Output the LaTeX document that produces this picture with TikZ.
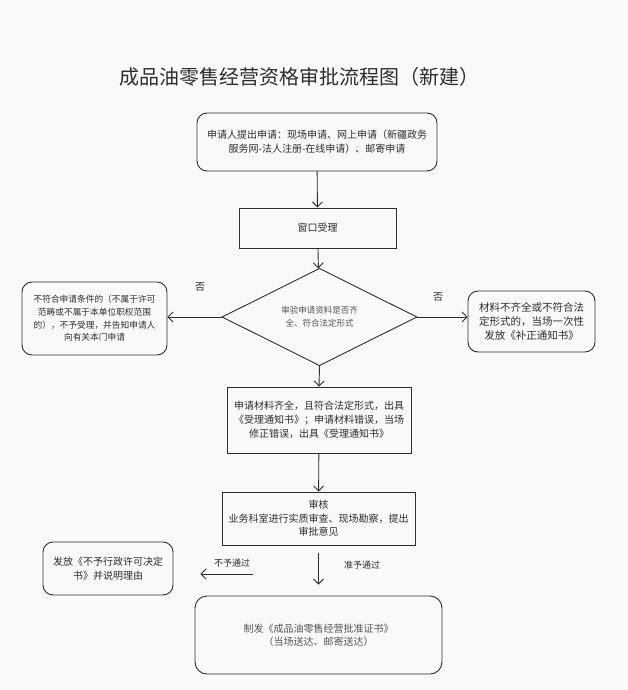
\documentclass[tikz,border=0pt]{standalone}
\usepackage{fontspec}
\setmainfont{Noto Sans CJK SC}
\usetikzlibrary{shapes.geometric,arrows.meta}
\definecolor{paper}{RGB}{249,249,250}
\definecolor{ink}{RGB}{45,45,45}
\definecolor{soft}{RGB}{85,85,85}
\begin{document}
\begin{tikzpicture}[x=1pt,y=-1pt,line width=0.9pt,draw=ink,text=ink,
		box/.style={draw,align=center,inner sep=0,font=\fontsize{10}{14}\selectfont},
		rbox/.style={box,rounded corners=10pt},
		arr/.style={-{Straight Barb[length=5pt,width=10pt]}},
		lbl/.style={font=\fontsize{9}{11}\selectfont}]
		\fill[paper] (0,0) rectangle (628,690);
		\useasboundingbox (0,0) rectangle (628,690);
		\node (title) at (299,77) {\fontsize{20}{24}\selectfont 成品油零售经营资格审批流程图（新建）};
		\node[rbox,minimum width=240,minimum height=58] (apply) at (317,142)
			{申请人提出申请：现场申请、网上申请（新疆政务\\服务网-法人注册-在线申请）、邮寄申请};
		\node[box,minimum width=157,minimum height=40] (window) at (317.5,228) {窗口受理};
		\node[draw,shape=diamond,minimum width=195,minimum height=68,inner sep=0,align=center,
			text=soft,font=\fontsize{8.5}{13}\selectfont] (check) at (319.5,317)
			{审验申请资料是否齐\\全、符合法定形式};
		\node[rbox,minimum width=145,minimum height=73,font=\fontsize{8.7}{12.7}\selectfont] (reject) at (94.5,318.5)
			{不符合申请条件的（不属于许可\\范畴或不属于本单位职权范围\\的），不予受理，并告知申请人\\向有关本门申请};
		\node[rbox,minimum width=127,minimum height=61,font=\fontsize{10.5}{14}\selectfont] (fix) at (531.5,321.5)
			{材料不齐全或不符合法\\定形式的，当场一次性\\发放《补正通知书》};
		\node[box,minimum width=184,minimum height=66] (accept) at (319,420)
			{申请材料齐全，且符合法定形式，出具\\《受理通知书》；申请材料错误，当场\\修正错误，出具《受理通知书》};
		\node[box,minimum width=193,minimum height=53,font=\fontsize{10}{13.5}\selectfont] (review) at (318.5,518.5)
			{审核\\业务科室进行实质审查、现场勘察，提出\\审批意见};
		\node[rbox,minimum width=130,minimum height=53] (deny) at (108,568.5)
			{发放《不予行政许可决定\\书》并说明理由};
		\node[rbox,rounded corners=12pt,minimum width=247,minimum height=78,text=soft,
			font=\fontsize{10}{13}\selectfont] (issue) at (318.5,635)
			{制发《成品油零售经营批准证书》\\（当场送达、邮寄送达）};
		\coordinate (nogo) at (253,574);
		\draw[arr] (apply) -- (window);
		\draw[arr] (window) -- (check);
		\draw[arr] (check.west) -- (check.west -| reject.east);
		\draw[arr] (check.east) -- (check.east -| fix.west);
		\draw[arr] (check.south) -- (accept.north);
		\draw[arr] (accept) -- (review);
		\draw[arr,shorten <=8pt,shorten >=11pt] (review.south) -- (issue.north);
		\draw[arr,shorten >=27pt] (nogo) -- (deny.east |- nogo);
		\node[lbl,font=\fontsize{10}{12}\selectfont] (no1) at (200,287) {否};
		\node[lbl,font=\fontsize{10}{12}\selectfont] (no2) at (438,297) {否};
		\node[lbl] (pass) at (362,565) {准予通过};
		\node[lbl] (fail) at (232,563) {不予通过};
\end{tikzpicture}
\end{document}
